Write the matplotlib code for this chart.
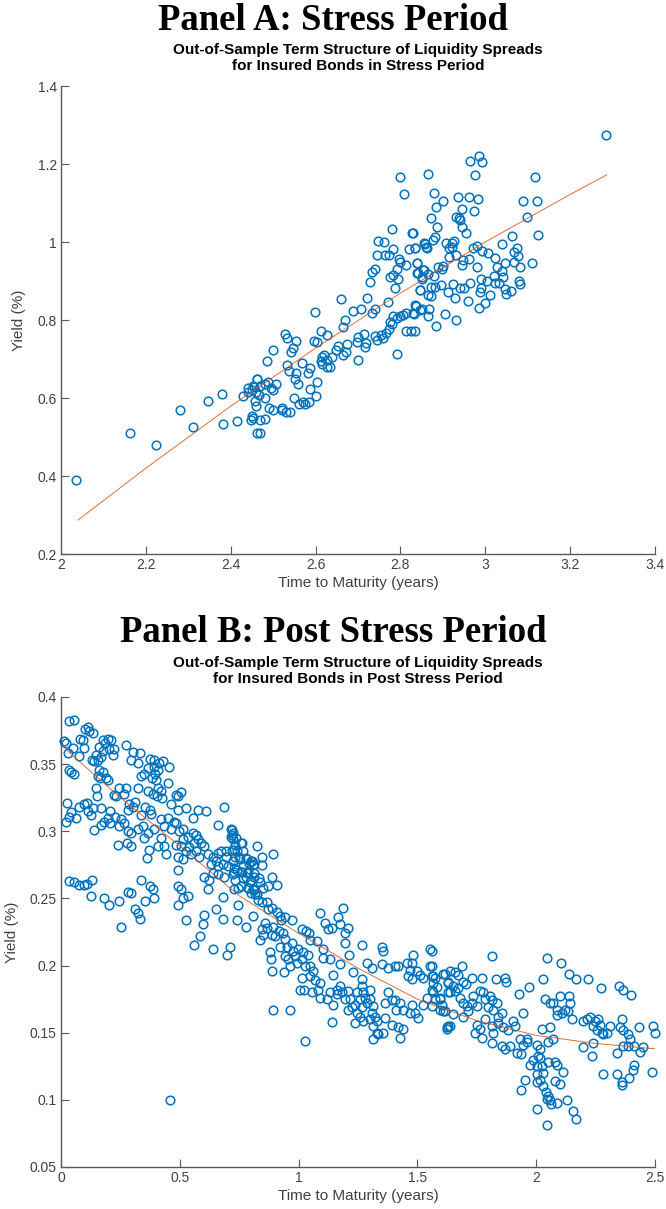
import matplotlib
matplotlib.use("Agg")
import matplotlib.pyplot as plt
import numpy as np

# ---- Panel A : stress period (time to maturity, yield) ----
a_pts = [
    (2.035, 0.389), (2.163, 0.509), (2.224, 0.479), (2.281, 0.570), (2.310, 0.526),
    (2.347, 0.592), (2.380, 0.609), (2.382, 0.534), (2.414, 0.542), (2.430, 0.604),
    (2.440, 0.616), (2.449, 0.620), (2.456, 0.629), (2.461, 0.648), (2.452, 0.550),
    (2.448, 0.543), (2.458, 0.592), (2.463, 0.509), (2.470, 0.544), (2.467, 0.608),
    (2.781, 1.033), (2.828, 1.022), (2.746, 1.003), (2.761, 1.000), (2.856, 0.997),
    (2.861, 0.988), (2.783, 0.981), (2.821, 0.981), (2.834, 0.984), (2.744, 0.966),
    (2.763, 0.966), (2.773, 0.966), (2.797, 0.956), (2.800, 0.950), (2.838, 0.947),
    (2.814, 0.941), (2.741, 0.932), (2.732, 0.922), (2.791, 0.932), (2.856, 0.928),
    (2.838, 0.921), (2.783, 0.915), (2.775, 0.909), (2.795, 0.904), (2.728, 0.897),
    (2.850, 0.906), (2.788, 0.881), (2.846, 0.877), (2.865, 0.864), (2.659, 0.854),
    (2.722, 0.856), (2.770, 0.847), (2.598, 0.821), (2.689, 0.824), (2.706, 0.828),
    (2.740, 0.827), (2.734, 0.819), (2.836, 0.836), (2.850, 0.827), (2.864, 0.810),
    (2.814, 0.819), (2.806, 0.813), (2.832, 0.815), (2.783, 0.809), (2.791, 0.804),
    (2.775, 0.796), (2.799, 0.809), (2.669, 0.800), (2.665, 0.783), (2.612, 0.772),
    (2.528, 0.763), (2.532, 0.753), (2.554, 0.747), (2.596, 0.747), (2.604, 0.744),
    (2.627, 0.762), (2.499, 0.723), (2.547, 0.729), (2.543, 0.718), (2.486, 0.695),
    (2.700, 0.756), (2.714, 0.764), (2.697, 0.744), (2.720, 0.740), (2.716, 0.732),
    (2.740, 0.760), (2.755, 0.762), (2.766, 0.766), (2.774, 0.776), (2.779, 0.791),
    (2.814, 0.773), (2.826, 0.772), (2.834, 0.773), (2.744, 0.750), (2.759, 0.753),
    (2.653, 0.733), (2.674, 0.738), (2.648, 0.723), (2.664, 0.710), (2.671, 0.719),
    (2.639, 0.704), (2.616, 0.706), (2.620, 0.710), (2.612, 0.696), (2.626, 0.697),
    (2.634, 0.680), (2.626, 0.680), (2.614, 0.687), (2.700, 0.697), (2.791, 0.713),
    (2.532, 0.685), (2.538, 0.668), (2.567, 0.689), (2.587, 0.676), (2.583, 0.665),
    (2.555, 0.665), (2.551, 0.650), (2.559, 0.636), (2.604, 0.642), (2.461, 0.648),
    (2.453, 0.631), (2.480, 0.636), (2.488, 0.640), (2.506, 0.636), (2.496, 0.625),
    (2.587, 0.622), (2.441, 0.625),
    (3.284, 1.274), (2.964, 1.208), (2.985, 1.221), (2.993, 1.205), (2.866, 1.174),
    (2.976, 1.173), (3.118, 1.166), (2.879, 1.125), (2.900, 1.105), (2.936, 1.116),
    (2.962, 1.115), (2.983, 1.109), (3.088, 1.106), (3.121, 1.105), (2.885, 1.089),
    (2.944, 1.084), (2.974, 1.079), (2.930, 1.065), (2.937, 1.062), (2.940, 1.056),
    (2.873, 1.061), (3.099, 1.065), (2.944, 1.039), (2.887, 1.038), (2.954, 1.022),
    (2.829, 1.024), (3.064, 1.016), (3.124, 1.018), (2.881, 1.014), (2.877, 1.005),
    (2.858, 0.995), (2.863, 0.984), (2.834, 0.984), (2.907, 0.998), (2.921, 0.998),
    (2.927, 1.003), (2.915, 0.984), (2.922, 0.988), (3.039, 0.994), (2.970, 0.984),
    (2.980, 0.990), (2.993, 0.977), (3.007, 0.971), (3.074, 0.985), (3.068, 0.975),
    (3.078, 0.965), (2.915, 0.962), (2.932, 0.967), (2.948, 0.954), (2.962, 0.956),
    (2.838, 0.945), (2.981, 0.937), (3.023, 0.958), (3.028, 0.937), (3.046, 0.945),
    (3.068, 0.948), (3.082, 0.935), (2.842, 0.920), (2.854, 0.927), (2.866, 0.918),
    (2.879, 0.913), (2.889, 0.937), (2.901, 0.938), (2.899, 0.932), (2.944, 0.941),
    (2.850, 0.909), (3.003, 0.901), (3.020, 0.914), (3.042, 0.909), (3.023, 0.895),
    (3.033, 0.894), (3.082, 0.892), (2.925, 0.892), (2.964, 0.894), (2.895, 0.890),
    (2.881, 0.885), (2.873, 0.885), (2.940, 0.881), (2.950, 0.883), (2.990, 0.881),
    (3.046, 0.879), (2.846, 0.877), (2.913, 0.871), (2.988, 0.873), (3.050, 0.867),
    (3.010, 0.864), (2.873, 0.862), (2.929, 0.856), (3.000, 0.844), (2.834, 0.838),
    (2.986, 0.830), (2.846, 0.826), (2.868, 0.827), (2.905, 0.815), (2.830, 0.817),
    (2.799, 1.167), (2.808, 1.123),
    (2.470, 0.510), (2.480, 0.545), (2.490, 0.575), (2.500, 0.570), (2.520, 0.570),
    (2.530, 0.565), (2.540, 0.565), (2.560, 0.585), (2.570, 0.590), (2.585, 0.590),
    (2.600, 0.605), (2.550, 0.600), (2.480, 0.600), (2.500, 0.620), (2.460, 0.580),
    (2.450, 0.555), (2.470, 0.630), (2.520, 0.575), (2.575, 0.585), (2.460, 0.615),
    (2.885, 0.785), (2.930, 0.800), (2.960, 0.850), (3.060, 0.875), (3.080, 0.900),
    (3.110, 0.945), (3.040, 0.925), (2.990, 0.905),
]
# fitted term structure, panel A
a_fit_x = [2.04, 2.20, 2.40, 2.60, 2.80, 3.00, 3.20, 3.286]
a_fit_y = [0.287, 0.420, 0.579, 0.728, 0.869, 1.000, 1.122, 1.172]

# ---- Panel B : post stress period ----
b_pts = [
    (0.035, 0.382), (0.053, 0.383), (0.112, 0.378), (0.119, 0.375), (0.101, 0.376),
    (0.136, 0.373), (0.014, 0.367), (0.021, 0.366), (0.081, 0.369), (0.091, 0.368),
    (0.175, 0.368), (0.196, 0.369), (0.210, 0.368), (0.187, 0.366), (0.274, 0.364),
    (0.049, 0.362), (0.098, 0.362), (0.028, 0.358), (0.077, 0.356), (0.161, 0.363),
    (0.175, 0.360), (0.147, 0.357), (0.168, 0.355), (0.201, 0.361), (0.224, 0.361),
    (0.220, 0.357), (0.129, 0.353), (0.140, 0.352), (0.157, 0.353), (0.302, 0.359),
    (0.333, 0.358), (0.295, 0.353), (0.323, 0.351), (0.376, 0.354), (0.393, 0.353),
    (0.414, 0.351), (0.428, 0.352), (0.365, 0.347), (0.351, 0.343), (0.393, 0.348),
    (0.407, 0.346), (0.456, 0.348), (0.035, 0.346), (0.042, 0.344), (0.056, 0.343),
    (0.154, 0.341), (0.166, 0.340), (0.189, 0.340), (0.199, 0.338), (0.175, 0.344),
    (0.161, 0.346), (0.337, 0.341), (0.382, 0.340), (0.400, 0.338), (0.397, 0.343),
    (0.449, 0.336), (0.410, 0.332), (0.421, 0.330), (0.404, 0.326), (0.425, 0.325),
    (0.147, 0.332), (0.152, 0.326), (0.246, 0.332), (0.274, 0.332), (0.264, 0.328),
    (0.224, 0.327), (0.231, 0.326), (0.323, 0.332), (0.368, 0.330), (0.386, 0.328),
    (0.484, 0.327), (0.505, 0.329), (0.494, 0.326), (0.025, 0.321), (0.077, 0.318),
    (0.095, 0.320), (0.109, 0.321), (0.135, 0.317), (0.115, 0.315), (0.126, 0.312),
    (0.042, 0.314), (0.063, 0.310), (0.021, 0.307), (0.035, 0.311), (0.168, 0.317),
    (0.182, 0.307), (0.196, 0.310), (0.208, 0.315), (0.227, 0.311), (0.253, 0.309),
    (0.267, 0.306), (0.288, 0.320), (0.281, 0.316), (0.302, 0.318), (0.311, 0.322),
    (0.337, 0.312), (0.354, 0.318), (0.376, 0.316), (0.379, 0.313), (0.344, 0.304),
    (0.323, 0.302), (0.295, 0.299), (0.246, 0.304), (0.281, 0.300), (0.278, 0.291),
    (0.295, 0.289), (0.239, 0.290), (0.137, 0.301), (0.168, 0.305), (0.208, 0.306),
    (0.463, 0.320), (0.491, 0.316), (0.526, 0.317), (0.554, 0.310), (0.575, 0.316),
    (0.610, 0.315), (0.659, 0.305), (0.687, 0.318), (0.421, 0.309), (0.449, 0.310),
    (0.474, 0.307), (0.484, 0.306), (0.435, 0.304), (0.463, 0.302), (0.512, 0.302),
    (0.498, 0.300), (0.393, 0.302), (0.368, 0.299), (0.351, 0.295), (0.372, 0.286),
    (0.362, 0.280), (0.421, 0.295), (0.435, 0.289), (0.442, 0.283), (0.407, 0.289),
    (0.512, 0.294), (0.533, 0.296), (0.554, 0.299), (0.568, 0.297), (0.575, 0.294),
    (0.589, 0.291), (0.603, 0.289), (0.561, 0.291), (0.540, 0.288), (0.568, 0.285),
    (0.582, 0.281), (0.617, 0.283), (0.638, 0.281), (0.659, 0.284), (0.673, 0.285),
    (0.694, 0.285), (0.715, 0.302), (0.722, 0.299), (0.715, 0.296), (0.736, 0.295),
    (0.757, 0.291), (0.729, 0.286), (0.750, 0.281), (0.778, 0.280), (0.799, 0.278),
    (0.813, 0.276), (0.694, 0.281), (0.652, 0.278), (0.631, 0.276), (0.659, 0.274),
    (0.680, 0.276), (0.701, 0.274), (0.729, 0.273), (0.764, 0.274), (0.785, 0.270),
    (0.757, 0.270), (0.484, 0.290), (0.505, 0.289), (0.526, 0.285), (0.547, 0.283),
    (0.491, 0.281), (0.512, 0.279), (0.491, 0.271), (0.603, 0.266), (0.624, 0.264),
    (0.638, 0.269), (0.659, 0.268), (0.687, 0.266), (0.729, 0.270), (0.778, 0.266),
    (0.799, 0.264), (0.813, 0.269), (0.834, 0.265),
    (0.035, 0.263), (0.053, 0.262), (0.077, 0.260), (0.098, 0.260), (0.109, 0.261),
    (0.130, 0.264), (0.126, 0.252), (0.182, 0.250), (0.281, 0.255), (0.295, 0.254),
    (0.337, 0.264), (0.376, 0.259), (0.386, 0.257), (0.491, 0.259), (0.505, 0.257),
    (0.533, 0.252), (0.617, 0.257), (0.680, 0.251), (0.729, 0.257), (0.757, 0.259),
    (0.785, 0.258), (0.799, 0.254), (0.813, 0.256), (0.827, 0.253),
    (0.204, 0.245), (0.246, 0.248), (0.251, 0.229), (0.312, 0.242), (0.326, 0.239),
    (0.333, 0.235), (0.354, 0.248), (0.392, 0.250), (0.494, 0.245), (0.515, 0.250),
    (0.526, 0.234), (0.599, 0.231), (0.602, 0.238), (0.653, 0.242), (0.460, 0.100),
    (0.560, 0.215), (0.585, 0.222), (0.640, 0.212), (0.680, 0.235), (0.700, 0.208),
    (0.718, 0.301), (0.718, 0.297), (0.722, 0.294), (0.732, 0.290), (0.718, 0.286),
    (0.739, 0.285), (0.760, 0.291), (0.767, 0.285), (0.732, 0.281), (0.725, 0.278),
    (0.753, 0.279), (0.781, 0.279), (0.792, 0.276), (0.802, 0.278), (0.809, 0.275),
    (0.823, 0.289), (0.847, 0.281), (0.844, 0.275), (0.891, 0.283), (0.739, 0.271),
    (0.760, 0.270), (0.781, 0.269), (0.725, 0.268), (0.767, 0.265), (0.732, 0.264),
    (0.812, 0.266), (0.795, 0.262), (0.746, 0.258), (0.788, 0.258), (0.809, 0.257),
    (0.837, 0.262), (0.851, 0.258), (0.872, 0.259), (0.886, 0.266), (0.907, 0.260),
    (0.816, 0.253), (0.830, 0.249), (0.844, 0.247), (0.865, 0.247), (0.872, 0.242),
    (0.746, 0.245), (0.809, 0.237), (0.739, 0.234), (0.778, 0.229), (0.886, 0.243),
    (0.907, 0.240), (0.921, 0.237), (0.928, 0.234), (0.942, 0.236), (0.971, 0.234),
    (0.858, 0.232), (0.844, 0.227), (0.865, 0.228), (0.893, 0.229), (0.851, 0.223),
    (0.886, 0.223), (0.900, 0.222), (0.919, 0.226), (0.935, 0.224), (0.837, 0.219),
    (0.942, 0.220), (0.921, 0.214), (0.950, 0.214), (0.971, 0.217), (0.978, 0.211),
    (0.999, 0.212), (1.013, 0.227), (1.031, 0.226), (1.043, 0.224), (1.048, 0.219),
    (1.079, 0.218), (1.020, 0.210), (1.041, 0.208), (0.879, 0.210), (0.884, 0.205),
    (0.942, 0.207), (0.957, 0.205), (0.985, 0.207), (0.992, 0.202), (1.013, 0.205),
    (1.027, 0.200), (0.964, 0.200), (0.886, 0.196), (0.940, 0.195), (1.013, 0.191),
    (1.048, 0.200), (1.062, 0.196), (1.048, 0.192), (1.069, 0.189), (1.090, 0.187),
    (1.006, 0.182), (1.022, 0.182), (1.055, 0.180), (1.083, 0.182), (1.104, 0.212),
    (1.104, 0.206), (1.132, 0.205), (1.146, 0.193), (1.090, 0.176), (1.118, 0.175),
    (1.132, 0.180), (1.160, 0.182), (1.174, 0.185), (1.160, 0.179), (1.181, 0.180),
    (1.195, 0.175), (1.146, 0.171), (1.209, 0.181), (1.227, 0.195), (1.174, 0.201),
    (1.212, 0.208), (1.195, 0.217), (1.265, 0.215), (1.090, 0.239), (1.111, 0.232),
    (1.125, 0.227), (1.139, 0.228), (1.167, 0.236), (1.174, 0.231), (1.188, 0.243),
    (1.209, 0.228), (1.195, 0.224), (1.216, 0.175), (1.223, 0.169), (1.209, 0.167),
    (1.237, 0.171), (1.244, 0.180), (1.258, 0.175), (1.265, 0.190), (1.265, 0.185),
    (1.272, 0.180), (1.279, 0.176), (1.286, 0.172), (1.265, 0.169), (1.244, 0.165),
    (1.258, 0.162), (1.272, 0.159), (1.237, 0.157), (1.300, 0.182), (1.300, 0.175),
    (1.314, 0.170), (1.307, 0.165), (1.321, 0.162), (1.300, 0.160), (1.328, 0.159),
    (1.314, 0.155), (1.328, 0.150), (1.314, 0.145), (1.335, 0.149), (1.356, 0.150),
    (1.363, 0.161), (1.363, 0.172), (1.377, 0.180), (1.391, 0.174), (1.405, 0.174),
    (1.427, 0.172), (1.438, 0.167), (1.412, 0.167), (1.391, 0.156), (1.419, 0.154),
    (1.427, 0.146), (1.440, 0.153), (1.469, 0.165), (1.476, 0.171), (1.490, 0.165),
    (1.504, 0.161), (1.525, 0.171), (1.539, 0.176), (1.560, 0.170), (1.574, 0.175),
    (1.595, 0.175), (1.602, 0.171), (1.616, 0.166), (1.623, 0.153), (1.630, 0.155),
    (1.286, 0.202), (1.307, 0.198), (1.349, 0.214), (1.356, 0.211), (1.349, 0.201),
    (1.377, 0.198), (1.405, 0.200), (1.419, 0.200), (1.455, 0.202), (1.476, 0.202),
    (1.483, 0.208), (1.469, 0.197), (1.462, 0.192), (1.476, 0.190), (1.497, 0.196),
    (1.511, 0.193), (1.525, 0.191), (1.553, 0.212), (1.553, 0.200), (1.560, 0.192),
    (1.567, 0.187), (1.581, 0.184), (1.609, 0.194), (1.630, 0.187), (1.630, 0.180),
    (0.893, 0.167), (0.964, 0.167), (1.027, 0.144), (1.139, 0.158), (0.711, 0.214),
    (1.560, 0.211), (1.560, 0.200), (1.567, 0.192), (1.574, 0.191), (1.560, 0.182),
    (1.567, 0.180), (1.595, 0.176), (1.616, 0.194), (1.637, 0.196), (1.658, 0.195),
    (1.672, 0.193), (1.689, 0.200), (1.630, 0.188), (1.651, 0.185), (1.637, 0.180),
    (1.658, 0.181), (1.672, 0.183), (1.693, 0.188), (1.705, 0.186), (1.728, 0.191),
    (1.770, 0.191), (1.813, 0.207), (1.829, 0.190), (1.869, 0.191), (1.873, 0.188),
    (1.679, 0.176), (1.693, 0.172), (1.707, 0.170), (1.728, 0.172), (1.735, 0.177),
    (1.749, 0.170), (1.763, 0.181), (1.777, 0.180), (1.784, 0.175), (1.806, 0.177),
    (1.813, 0.174), (1.834, 0.172), (1.798, 0.169), (1.820, 0.167), (1.855, 0.165),
    (1.841, 0.162), (1.595, 0.167), (1.609, 0.166), (1.651, 0.164), (1.690, 0.162),
    (1.714, 0.166), (1.623, 0.154), (1.637, 0.155), (1.749, 0.156), (1.763, 0.153),
    (1.742, 0.150), (1.770, 0.146), (1.784, 0.160), (1.813, 0.155), (1.820, 0.150),
    (1.813, 0.142), (1.841, 0.157), (1.862, 0.154), (1.883, 0.152), (1.904, 0.159),
    (1.911, 0.155), (1.855, 0.140), (1.869, 0.138), (1.890, 0.140), (1.932, 0.145),
    (1.943, 0.141), (1.960, 0.145), (1.929, 0.179), (1.946, 0.165), (1.971, 0.184),
    (1.921, 0.135), (1.935, 0.134), (1.960, 0.143), (2.002, 0.141), (2.016, 0.138),
    (2.009, 0.133), (2.016, 0.131), (1.988, 0.130), (1.974, 0.126), (2.002, 0.125),
    (2.023, 0.125), (2.027, 0.190), (2.037, 0.175), (2.058, 0.172), (2.069, 0.172),
    (2.058, 0.154), (2.023, 0.153), (2.072, 0.145), (2.051, 0.143), (2.089, 0.163),
    (2.086, 0.167), (2.100, 0.177), (2.107, 0.165), (2.121, 0.167), (2.139, 0.177),
    (2.142, 0.172), (2.135, 0.166), (2.149, 0.160), (2.047, 0.206), (2.104, 0.202),
    (2.139, 0.194), (2.166, 0.190), (2.219, 0.190), (2.271, 0.183),
    (2.051, 0.128), (2.079, 0.128), (2.086, 0.126), (2.030, 0.120), (2.005, 0.119),
    (2.016, 0.115), (2.079, 0.114), (2.100, 0.112), (2.114, 0.121), (1.953, 0.115),
    (1.935, 0.107), (2.002, 0.113), (2.030, 0.110), (2.041, 0.106), (2.051, 0.103),
    (2.058, 0.100), (2.061, 0.097), (2.044, 0.101), (2.086, 0.098), (2.131, 0.100),
    (2.153, 0.092), (2.167, 0.086), (2.005, 0.093), (2.047, 0.081),
    (2.198, 0.159), (2.212, 0.160), (2.226, 0.162), (2.247, 0.159), (2.262, 0.160),
    (2.269, 0.156), (2.240, 0.155), (2.255, 0.152), (2.283, 0.149), (2.297, 0.150),
    (2.311, 0.155), (2.276, 0.150), (2.240, 0.142), (2.198, 0.139), (2.233, 0.133),
    (2.348, 0.185), (2.367, 0.182), (2.399, 0.178), (2.360, 0.160), (2.353, 0.154),
    (2.367, 0.152), (2.385, 0.149), (2.395, 0.145), (2.364, 0.140), (2.388, 0.140),
    (2.412, 0.140), (2.437, 0.136), (2.448, 0.139), (2.431, 0.154), (2.493, 0.155),
    (2.500, 0.150), (2.341, 0.135), (2.412, 0.126), (2.406, 0.122), (2.392, 0.116),
    (2.360, 0.113), (2.362, 0.111), (2.339, 0.119), (2.280, 0.119), (2.486, 0.121),
]
# fitted term structure, panel B
b_fit_x = [0.02, 0.25, 0.50, 0.75, 1.00, 1.25, 1.50, 1.75, 2.00, 2.25, 2.50]
b_fit_y = [0.361, 0.325, 0.289, 0.252, 0.224, 0.198, 0.175, 0.159, 0.148, 0.142, 0.138]

a_xt = [2, 2.2, 2.4, 2.6, 2.8, 3, 3.2, 3.4]
a_yt = [0.2, 0.4, 0.6, 0.8, 1, 1.2, 1.4]
b_xt = [0, 0.5, 1, 1.5, 2, 2.5]
b_yt = [0.05, 0.1, 0.15, 0.2, 0.25, 0.3, 0.35, 0.4]

BLUE = "#0072BD"
ORANGE = "#D95319"
AXC = "#5a5a5a"
TXT = "#404040"

plt.rcParams["font.family"] = ["Liberation Sans", "DejaVu Sans"]

fig = plt.figure(figsize=(6.66, 12.09), dpi=100)
W, H = 666, 1209


def make_axes(left, top, right, bottom):
    return fig.add_axes([left / W, 1 - bottom / H, (right - left) / W, (bottom - top) / H])


def style(ax, xt, yt, xlim, ylim):
    ax.set_xlim(*xlim)
    ax.set_ylim(*ylim)
    ax.set_xticks(xt)
    ax.set_yticks(yt)
    ax.set_xticklabels([f"{v:g}" for v in xt])
    ax.set_yticklabels([f"{v:g}" for v in yt])
    for s in ("top", "right"):
        ax.spines[s].set_visible(False)
    for s in ("left", "bottom"):
        ax.spines[s].set_color(AXC)
        ax.spines[s].set_linewidth(1.0)
    ax.tick_params(direction="in", length=6, width=0.8, color=AXC,
                   labelcolor=TXT, labelsize=10, pad=3)
    ax.set_xlabel("Time to Maturity (years)", fontsize=11, color=TXT, labelpad=3)
    ax.set_ylabel("Yield (%)", fontsize=11, color=TXT, labelpad=8)


def draw(ax, pts, fx, fy):
    p = np.array(pts).T
    ax.plot(p[0], p[1], "o", ms=6.2, mfc="none", mec=BLUE, mew=1.1, clip_on=False)
    ax.plot(fx, fy, "-", color=ORANGE, lw=0.7, alpha=0.85)


axA = make_axes(61, 86, 655, 554)
draw(axA, a_pts, a_fit_x, a_fit_y)
style(axA, a_xt, a_yt, (2, 3.4), (0.2, 1.4))

axB = make_axes(61, 697, 655, 1167)
draw(axB, b_pts, b_fit_x, b_fit_y)
style(axB, b_xt, b_yt, (0, 2.5), (0.05, 0.4))

# panel headings (figure centred) and chart titles (centred over the axes)
XC = 358 / W
fig.text(0.5, 1 - 21 / H, "Panel A: Stress Period", ha="center", va="center",
         fontsize=26.5, fontweight="bold", family="Liberation Serif")
fig.text(XC, 1 - 58 / H, "Out-of-Sample Term Structure of Liquidity Spreads\n"
         "for Insured Bonds in Stress Period", ha="center", va="center",
         fontsize=11, fontweight="bold", linespacing=1.25)
fig.text(0.5, 1 - 633 / H, "Panel B: Post Stress Period", ha="center", va="center",
         fontsize=26.5, fontweight="bold", family="Liberation Serif")
fig.text(XC, 1 - 671 / H, "Out-of-Sample Term Structure of Liquidity Spreads\n"
         "for Insured Bonds in Post Stress Period", ha="center", va="center",
         fontsize=11, fontweight="bold", linespacing=1.25)

fig.savefig("out.png", dpi=100)
